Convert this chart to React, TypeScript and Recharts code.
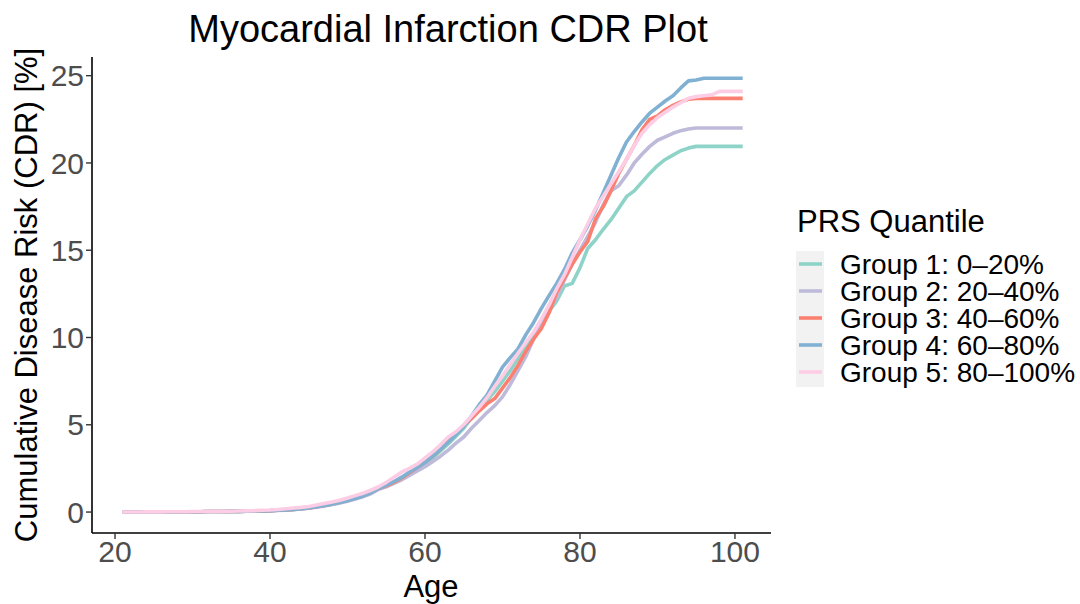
import React from "react";
import { LineChart, Line, XAxis, YAxis } from "recharts";

const ages = [
  21, 22, 23, 24, 25, 26, 27, 28, 29, 30, 31, 32, 33, 34, 35, 36, 37, 38, 39, 40,
  41, 42, 43, 44, 45, 46, 47, 48, 49, 50, 51, 52, 53, 54, 55, 56, 57, 58, 59, 60,
  61, 62, 63, 64, 65, 66, 67, 68, 69, 70, 71, 72, 73, 74, 75, 76, 77, 78, 79, 80,
  81, 82, 83, 84, 85, 86, 87, 88, 89, 90, 91, 92, 93, 94, 95, 96, 97, 98, 99, 100, 101,
];

const early = [0, 0, 0, 0, 0.01, 0.01, 0.01, 0.01, 0.02, 0.02, 0.02, 0.03, 0.03, 0.03, 0.04, 0.04, 0.05, 0.06, 0.07];
const earlyPink = [0, 0, 0, 0.01, 0.01, 0.01, 0.02, 0.02, 0.02, 0.03, 0.03, 0.04, 0.04, 0.05, 0.05, 0.06, 0.07, 0.08, 0.1];

const group1 = [
  ...early,
  0.08, 0.1, 0.12, 0.15, 0.19, 0.24, 0.3, 0.37, 0.45, 0.55,
  0.66, 0.78, 0.92, 1.1, 1.35, 1.5, 1.7, 1.95, 2.2, 2.45,
  2.75, 3.1, 3.5, 3.9, 4.35, 4.8, 5.4, 5.95, 6.4, 6.9,
  7.5, 8.1, 8.8, 9.5, 10.1, 10.8, 11.5, 12.1, 12.95, 13.1,
  14.0, 15.1, 15.6, 16.2, 16.75, 17.4, 18.07, 18.4, 18.9, 19.4,
  19.85, 20.2, 20.45, 20.7, 20.85, 20.95, 20.95, 20.95, 20.95, 20.95,
  20.95, 20.95,
];

const group2 = [
  ...early,
  0.07, 0.09, 0.11, 0.14, 0.18, 0.22, 0.28, 0.35, 0.43, 0.52,
  0.62, 0.74, 0.88, 1.05, 1.3, 1.45, 1.65, 1.85, 2.1, 2.35,
  2.6, 2.9, 3.2, 3.55, 3.95, 4.3, 4.8, 5.25, 5.7, 6.1,
  6.6, 7.3, 8.1, 8.9, 9.9, 10.8, 11.7, 12.3, 13.3, 14.2,
  15.0, 15.8, 16.6, 17.6, 18.4, 18.7, 19.3, 20.0, 20.5, 20.95,
  21.3, 21.5, 21.7, 21.85, 21.95, 22.0, 22.0, 22.0, 22.0, 22.0,
  22.0, 22.0,
];

const group3 = [
  ...early,
  0.08, 0.1, 0.12, 0.15, 0.19, 0.24, 0.3, 0.37, 0.46, 0.56,
  0.67, 0.8, 0.95, 1.12, 1.35, 1.5, 1.7, 1.95, 2.25, 2.55,
  2.85, 3.2, 3.6, 4.05, 4.5, 4.95, 5.35, 5.8, 6.2, 6.5,
  7.1, 7.7, 8.4, 9.2, 9.9, 10.5, 11.4, 12.6, 13.4, 14.2,
  14.9, 15.5, 16.8, 17.5, 18.4, 19.4, 20.2, 21.0, 21.9, 22.5,
  22.7, 23.05, 23.3, 23.5, 23.65, 23.7, 23.7, 23.7, 23.7, 23.7,
  23.7, 23.7,
];

const group4 = [
  ...early,
  0.08, 0.1, 0.12, 0.15, 0.19, 0.24, 0.3, 0.37, 0.45, 0.55,
  0.66, 0.78, 0.92, 1.1, 1.35, 1.55, 1.75, 2.0, 2.3, 2.55,
  2.85, 3.2, 3.6, 4.0, 4.45, 4.9, 5.5, 6.15, 6.7, 7.5,
  8.3, 8.85, 9.35, 10.15, 10.85, 11.65, 12.4, 13.1, 13.9, 14.85,
  15.6, 16.4, 17.3, 18.3, 19.3, 20.3, 21.2, 21.8, 22.35, 22.85,
  23.2, 23.55, 23.85, 24.3, 24.7, 24.75, 24.85, 24.85, 24.85, 24.85,
  24.85, 24.85,
];

const group5 = [
  ...earlyPink,
  0.12, 0.15, 0.19, 0.23, 0.27, 0.32, 0.4, 0.49, 0.58, 0.68,
  0.8, 0.94, 1.08, 1.25, 1.45, 1.7, 2.0, 2.3, 2.5, 2.75,
  3.1, 3.45, 3.85, 4.3, 4.6, 5.0, 5.5, 6.0, 6.55, 7.2,
  7.8, 8.45, 9.1, 9.7, 10.3, 11.05, 11.85, 12.8, 13.6, 14.6,
  15.6, 16.5, 17.4, 18.1, 18.8, 19.5, 20.2, 21.0, 21.7, 22.2,
  22.6, 22.9, 23.2, 23.45, 23.7, 23.8, 23.85, 23.9, 24.1, 24.1,
  24.1, 24.1,
];

const seriesKeys = ["g1", "g2", "g3", "g4", "g5"];
const seriesNames = [
  "Group 1: 0\u201320%",
  "Group 2: 20\u201340%",
  "Group 3: 40\u201360%",
  "Group 4: 60\u201380%",
  "Group 5: 80\u2013100%",
];
const seriesColors = ["#8DD3C7", "#BEBADA", "#FB8072", "#80B1D3", "#FCCDE5"];
const xTicks = [20, 40, 60, 80, 100];
const yTicks = [0, 5, 10, 15, 20, 25];

const allSeries = [group1, group2, group3, group4, group5];
const data = ages.map((age, i) => {
  const row: Record<string, number> = { age };
  seriesKeys.forEach((k, j) => {
    row[k] = allSeries[j][i];
  });
  return row;
});

const FONT = "'Liberation Sans', Arial, Helvetica, sans-serif";

export default function App() {
  return (
    <div
      style={{
        position: "absolute",
        left: 0,
        top: 0,
        width: 1080,
        height: 604,
        background: "#ffffff",
        fontFamily: FONT,
      }}
    >
      <LineChart
        width={1080}
        height={604}
        data={data}
        margin={{ top: 57, right: 309, bottom: 0, left: 0 }}
      >
        <XAxis
          dataKey="age"
          type="number"
          domain={[17.03, 104.65]}
          ticks={xTicks}
          allowDataOverflow
          height={71}
          tickSize={6}
          tickMargin={2}
          axisLine={{ stroke: "#000000", strokeWidth: 1.6 }}
          tickLine={{ stroke: "#333333", strokeWidth: 1.4 }}
          tick={{ fill: "#4D4D4D", fontSize: 30, fontFamily: FONT }}
        />
        <YAxis
          type="number"
          domain={[-1.2, 26.07]}
          ticks={yTicks}
          allowDataOverflow
          width={92}
          tickSize={6}
          tickMargin={2}
          axisLine={{ stroke: "#000000", strokeWidth: 1.6 }}
          tickLine={{ stroke: "#333333", strokeWidth: 1.4 }}
          tick={{ fill: "#4D4D4D", fontSize: 30, fontFamily: FONT }}
        />
        {seriesKeys.map((k, i) => (
          <Line
            key={k}
            dataKey={k}
            name={seriesNames[i]}
            type="linear"
            stroke={seriesColors[i]}
            strokeWidth={3.6}
            strokeLinejoin="round"
            dot={false}
            activeDot={false}
            isAnimationActive={false}
          />
        ))}
      </LineChart>
      <svg
        width={1080}
        height={604}
        style={{ position: "absolute", left: 0, top: 0, pointerEvents: "none" }}
      >
        <text x={448} y={42} textAnchor="middle" fontSize={38} fontFamily={FONT} fill="#000">
          Myocardial Infarction CDR Plot
        </text>
        <text x={431} y={597} textAnchor="middle" fontSize={31} fontFamily={FONT} fill="#000">
          Age
        </text>
        <text
          x={0}
          y={0}
          transform="translate(37,295) rotate(-90)"
          textAnchor="middle"
          fontSize={31}
          fontFamily={FONT}
          fill="#000"
        >
          Cumulative Disease Risk (CDR) [%]
        </text>
        <text x={797} y={232} fontSize={31} fontFamily={FONT} fill="#000">
          PRS Quantile
        </text>
        <rect x={796} y={251} width={28} height={136} fill="#F2F2F2" />
        {seriesNames.map((n, i) => (
          <g key={n}>
            <line
              x1={799}
              x2={822}
              y1={264 + i * 27}
              y2={264 + i * 27}
              stroke={seriesColors[i]}
              strokeWidth={3.6}
            />
            <text x={840} y={264 + i * 27 + 10} fontSize={28} fontFamily={FONT} fill="#000">
              {n}
            </text>
          </g>
        ))}
      </svg>
    </div>
  );
}
